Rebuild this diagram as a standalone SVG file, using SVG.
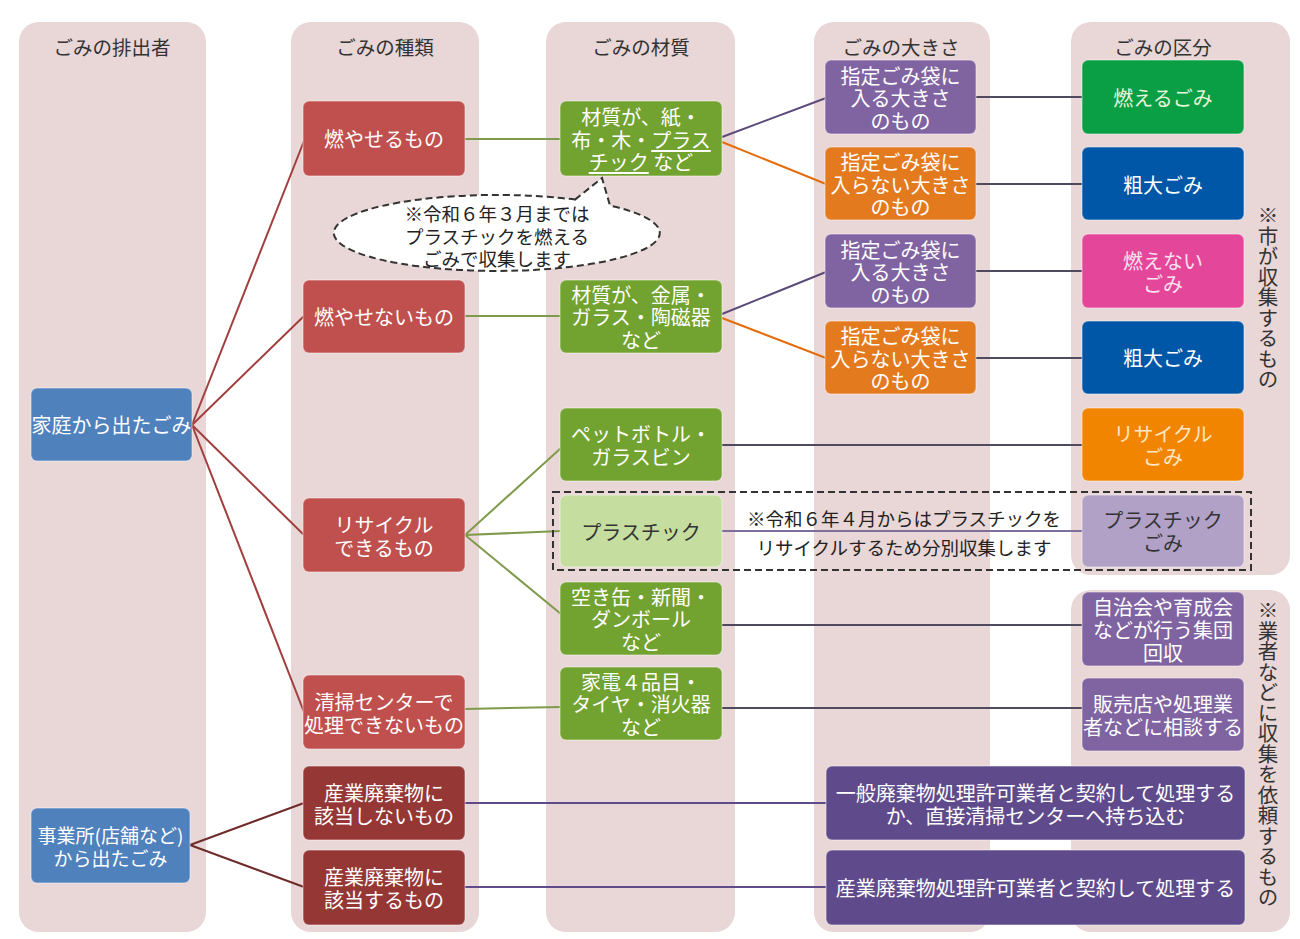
<svg xmlns="http://www.w3.org/2000/svg" width="1300" height="939" viewBox="0 0 1300 939">
<style>
text{font-family:"Noto Sans CJK JP","Noto Sans CJK SC",sans-serif;}
.col{fill:#e9d6d6;}
.hd{font-size:19.5px;fill:#333;text-anchor:middle;dominant-baseline:central;}
.t{font-size:20px;fill:#fff;text-anchor:middle;dominant-baseline:central;}
.td{font-size:20px;fill:#333;text-anchor:middle;dominant-baseline:central;}
.n{fill:#e9d6d6;}
.box{stroke:rgba(255,255,255,0.35);stroke-width:1.5;}
.blue{fill:#4f81bd;}
.red{fill:#c0504d;}
.dred{fill:#953734;}
.grn{fill:#72a22f;}
.lgrn{fill:#c5dea0;}
.pur{fill:#8064a2;}
.org{fill:#e47a1e;}
.burn{fill:#0a9e45;}
.bulk{fill:#0057a8;}
.pink{fill:#e4479a;}
.rec{fill:#f28500;}
.lpur{fill:#b2a1c7;}
.dpur{fill:#5f4b8b;}
.note{font-size:18.5px;fill:#222;text-anchor:middle;dominant-baseline:central;}
.vt{font-size:20.5px;fill:#333;writing-mode:vertical-rl;}
.dash{fill:none;stroke:#333;stroke-width:2;stroke-dasharray:7 4;}
</style>

<!-- column backgrounds -->
<g id="columns">
<rect class="col" x="19" y="22" width="187" height="910" rx="20"/>
<rect class="col" x="291" y="22" width="188" height="910" rx="20"/>
<rect class="col" x="546" y="22" width="189" height="910" rx="20"/>
<rect class="col" x="814" y="22" width="176" height="910" rx="20"/>
<rect class="col" x="1071" y="22" width="219" height="553" rx="20"/>
<rect class="col" x="1071" y="590" width="219" height="342" rx="20"/>
<text class="hd" x="112" y="46">ごみの排出者</text>
<text class="hd" x="385" y="46">ごみの種類</text>
<text class="hd" x="641" y="46">ごみの材質</text>
<text class="hd" x="901" y="46">ごみの大きさ</text>
<text class="hd" x="1163" y="46">ごみの区分</text>
<text class="vt" x="1268" y="205">※市が収集するもの</text>
<text class="vt" x="1268" y="600">※業者などに収集を依頼するもの</text>
</g>

<!-- connectors -->
<g id="connectors" fill="none" stroke-width="2">
<g stroke="#a03f3d">
<line x1="192" y1="425" x2="304" y2="141"/>
<line x1="192" y1="425" x2="304" y2="316"/>
<line x1="192" y1="425" x2="304" y2="535"/>
<line x1="192" y1="425" x2="304" y2="712"/>
</g>
<g stroke="#6e2b2a">
<line x1="190" y1="845" x2="304" y2="803"/>
<line x1="190" y1="845" x2="304" y2="887"/>
</g>
<g stroke="#7f9a4a">
<line x1="465" y1="139" x2="561" y2="139"/>
<line x1="465" y1="316" x2="561" y2="316"/>
<line x1="465" y1="535" x2="561" y2="448"/>
<line x1="465" y1="535" x2="561" y2="531"/>
<line x1="465" y1="535" x2="561" y2="614"/>
<line x1="465" y1="709" x2="561" y2="707"/>
</g>
<g stroke="#5c4a7a">
<line x1="722" y1="137" x2="826" y2="98"/>
<line x1="722" y1="314" x2="826" y2="272"/>
</g>
<g stroke="#e46c0a">
<line x1="722" y1="142" x2="826" y2="184"/>
<line x1="722" y1="318" x2="826" y2="358"/>
</g>
<g stroke="#4f4a5e">
<line x1="976" y1="97" x2="1082" y2="97"/>
<line x1="976" y1="184" x2="1082" y2="184"/>
<line x1="976" y1="271" x2="1082" y2="271"/>
<line x1="976" y1="358" x2="1082" y2="358"/>
<line x1="722" y1="445" x2="1082" y2="445"/>
<line x1="722" y1="625" x2="1082" y2="625"/>
<line x1="722" y1="708" x2="1082" y2="708"/>
</g>
<line x1="722" y1="531" x2="1082" y2="531" stroke="#7d6e9c"/>
<g stroke="#5f4b8b">
<line x1="465" y1="803" x2="826" y2="803"/>
<line x1="465" y1="887" x2="826" y2="887"/>
</g>
</g>

<!-- column 1 -->
<g id="n-katei"><rect class="box blue" x="31" y="388" width="161" height="73" rx="6"/><text class="t" x="111.5" y="424.5" font-size="19">家庭から出たごみ</text></g>
<g id="n-jigyosho"><rect class="box blue" x="31" y="808" width="159" height="75" rx="6"/><text class="t" x="110.5" y="834" style="font-size:19px">事業所(店舗など)</text><text class="t" x="110.5" y="857" style="font-size:19px">から出たごみ</text></g>

<!-- column 2 -->
<g id="n-moyaseru"><rect class="box red" x="303" y="101" width="162" height="75" rx="6"/><text class="t" x="384" y="138.5">燃やせるもの</text></g>
<g id="n-moyasenai"><rect class="box red" x="303" y="280" width="162" height="73" rx="6"/><text class="t" x="384" y="316.5">燃やせないもの</text></g>
<g id="n-recycle"><rect class="box red" x="303" y="498" width="162" height="74" rx="6"/><text class="t" x="384" y="524">リサイクル</text><text class="t" x="384" y="547">できるもの</text></g>
<g id="n-seiso"><rect class="box red" x="303" y="675" width="162" height="74" rx="6"/><text class="t" x="384" y="701">清掃センターで</text><text class="t" x="384" y="724">処理できないもの</text></g>
<g id="n-sangyo-no"><rect class="box dred" x="303" y="766" width="162" height="74" rx="6"/><text class="t" x="384" y="792">産業廃棄物に</text><text class="t" x="384" y="815">該当しないもの</text></g>
<g id="n-sangyo-yes"><rect class="box dred" x="303" y="850" width="162" height="75" rx="6"/><text class="t" x="384" y="876">産業廃棄物に</text><text class="t" x="384" y="899">該当するもの</text></g>

<!-- column 3 -->
<g id="n-kami"><rect class="box grn" x="560" y="101" width="162" height="75" rx="6"/>
<text class="t" x="641" y="116">材質が、紙・</text>
<text class="t" x="641" y="139">布・木・<tspan text-decoration="underline">プラス</tspan></text>
<text class="t" x="641" y="161"><tspan text-decoration="underline">チック</tspan> など</text></g>
<g id="n-kinzoku"><rect class="box grn" x="560" y="280" width="162" height="73" rx="6"/>
<text class="t" x="641" y="294">材質が、金属・</text>
<text class="t" x="641" y="316.5">ガラス・陶磁器</text>
<text class="t" x="641" y="339">など</text></g>
<g id="n-pet"><rect class="box grn" x="560" y="408" width="162" height="73" rx="6"/><text class="t" x="641" y="433">ペットボトル・</text><text class="t" x="641" y="456">ガラスビン</text></g>
<g id="n-plastic"><rect class="box lgrn" x="560" y="495" width="162" height="72" rx="6"/><text class="td" x="641" y="531">プラスチック</text></g>
<g id="n-akikan"><rect class="box grn" x="560" y="582" width="162" height="73" rx="6"/><text class="t" x="641" y="596">空き缶・新聞・</text><text class="t" x="641" y="618.5">ダンボール</text><text class="t" x="641" y="641">など</text></g>
<g id="n-kaden"><rect class="box grn" x="560" y="667" width="162" height="73" rx="6"/><text class="t" x="641" y="681">家電４品目・</text><text class="t" x="641" y="703.5">タイヤ・消火器</text><text class="t" x="641" y="726">など</text></g>

<!-- column 4 -->
<g id="n-size1"><rect class="box pur" x="825" y="60" width="151" height="74" rx="6"/><text class="t" x="900.5" y="75">指定ごみ袋に</text><text class="t" x="900.5" y="97.5">入る大きさ</text><text class="t" x="900.5" y="120">のもの</text></g>
<g id="n-size2"><rect class="box org" x="825" y="147" width="151" height="73" rx="6"/><text class="t" x="900.5" y="161.5">指定ごみ袋に</text><text class="t" x="900.5" y="184">入らない大きさ</text><text class="t" x="900.5" y="206">のもの</text></g>
<g id="n-size3"><rect class="box pur" x="825" y="234" width="151" height="74" rx="6"/><text class="t" x="900.5" y="249">指定ごみ袋に</text><text class="t" x="900.5" y="271.5">入る大きさ</text><text class="t" x="900.5" y="294">のもの</text></g>
<g id="n-size4"><rect class="box org" x="825" y="321" width="151" height="73" rx="6"/><text class="t" x="900.5" y="335.5">指定ごみ袋に</text><text class="t" x="900.5" y="358">入らない大きさ</text><text class="t" x="900.5" y="380">のもの</text></g>

<!-- column 5 -->
<g id="n-moeru"><rect class="box burn" x="1082" y="60" width="162" height="74" rx="6"/><text class="t" x="1163" y="97" fill="#e6f6dc" style="fill:#e6f6dc">燃えるごみ</text></g>
<g id="n-sodai1"><rect class="box bulk" x="1082" y="147" width="162" height="73" rx="6"/><text class="t" x="1163" y="184">粗大ごみ</text></g>
<g id="n-moenai"><rect class="box pink" x="1082" y="234" width="162" height="74" rx="6"/><text class="t" x="1163" y="260" style="fill:#fbe3ef">燃えない</text><text class="t" x="1163" y="283" style="fill:#fbe3ef">ごみ</text></g>
<g id="n-sodai2"><rect class="box bulk" x="1082" y="321" width="162" height="73" rx="6"/><text class="t" x="1163" y="357.5">粗大ごみ</text></g>
<g id="n-recgomi"><rect class="box rec" x="1082" y="408" width="162" height="73" rx="6"/><text class="t" x="1163" y="433" style="fill:#fde7c8">リサイクル</text><text class="t" x="1163" y="456" style="fill:#fde7c8">ごみ</text></g>
<g id="n-plagomi"><rect class="box lpur" x="1082" y="495" width="162" height="72" rx="6"/><text class="td" x="1163" y="519">プラスチック</text><text class="td" x="1163" y="542">ごみ</text></g>
<g id="n-shudan"><rect class="box pur" x="1082" y="592" width="162" height="74" rx="6"/><text class="t" x="1163" y="606">自治会や育成会</text><text class="t" x="1163" y="629">などが行う集団</text><text class="t" x="1163" y="652">回収</text></g>
<g id="n-hanbai"><rect class="box pur" x="1082" y="678" width="162" height="73" rx="6"/><text class="t" x="1163" y="703">販売店や処理業</text><text class="t" x="1163" y="726">者などに相談する</text></g>

<!-- wide boxes -->
<g id="n-ippan"><rect class="box dpur" x="826" y="766" width="419" height="74" rx="6"/><text class="t" x="1035.5" y="792">一般廃棄物処理許可業者と契約して処理する</text><text class="t" x="1035.5" y="815">か、直接清掃センターへ持ち込む</text></g>
<g id="n-sangyo"><rect class="box dpur" x="826" y="850" width="419" height="75" rx="6"/><text class="t" x="1035.5" y="887">産業廃棄物処理許可業者と契約して処理する</text></g>

<!-- notes -->
<g id="note-callout">
<path d="M575 199.6 L602 178 L610 205.6 A163 38 0 1 1 575 199.6 Z" fill="#fff" stroke="#333" stroke-width="2" stroke-dasharray="7 4"/>
<text class="note" x="497" y="213">※令和６年３月までは</text>
<text class="note" x="497" y="236">プラスチックを燃える</text>
<text class="note" x="497" y="258">ごみで収集します</text>
</g>
<g id="note-plastic">
<rect class="dash" x="553" y="492" width="698" height="78"/>
<text class="note" x="904" y="518">※令和６年４月からはプラスチックを</text>
<text class="note" x="904" y="547">リサイクルするため分別収集します</text>
</g>
</svg>
